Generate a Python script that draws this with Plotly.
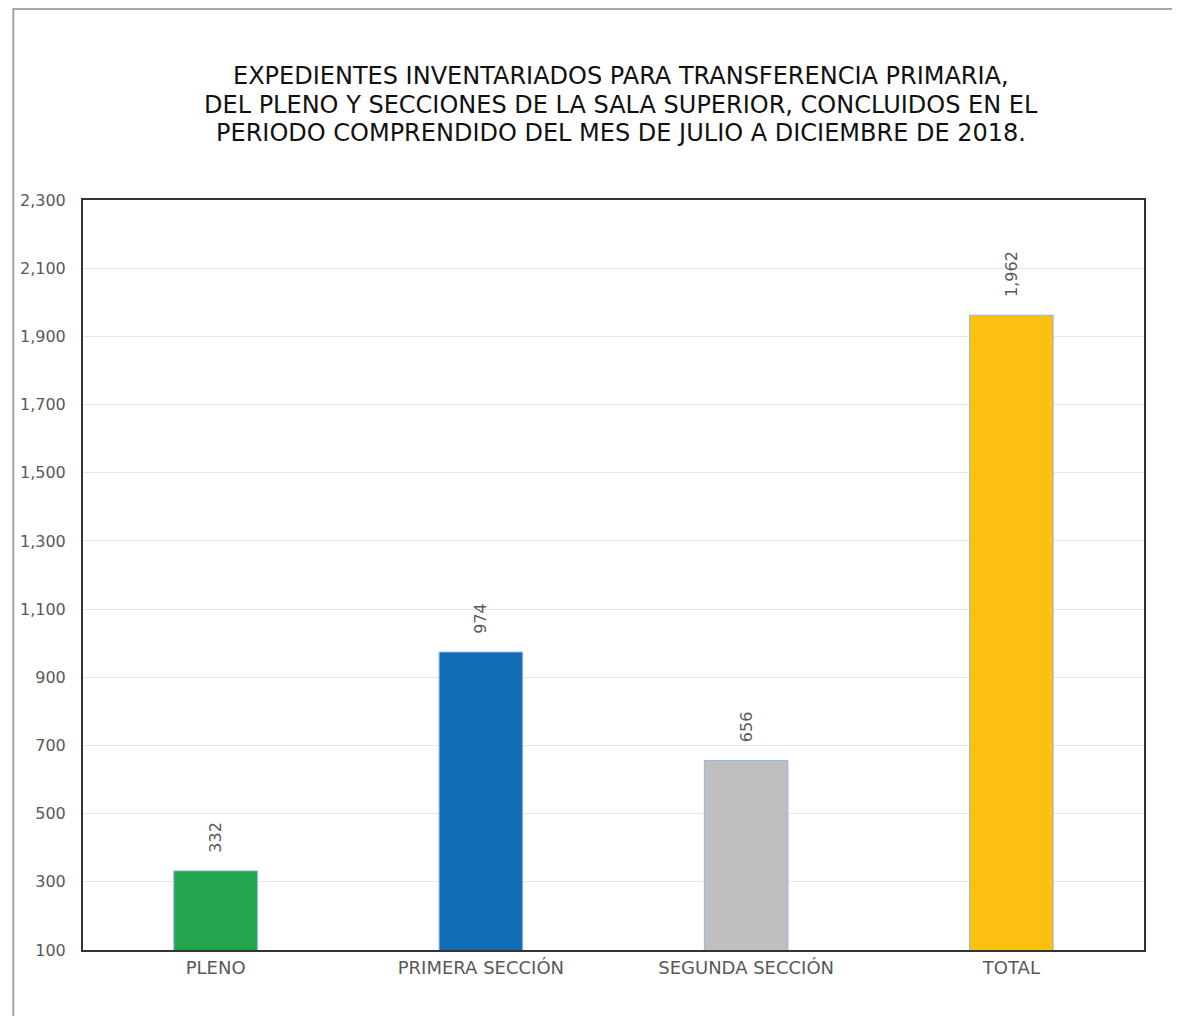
import plotly.graph_objects as go

categorias = ["PLENO", "PRIMERA SECCIÓN", "SEGUNDA SECCIÓN", "TOTAL"]
expedientes = [332, 974, 656, 1962]
colores = ["#24A54E", "#126DB6", "#BFBFBF", "#FDC010"]
ticks_y = list(range(100, 2301, 200))

titulo = [
    "EXPEDIENTES INVENTARIADOS PARA TRANSFERENCIA PRIMARIA,",
    "DEL PLENO Y SECCIONES DE LA SALA SUPERIOR, CONCLUIDOS EN EL",
    "PERIODO COMPRENDIDO DEL MES DE JULIO A DICIEMBRE DE 2018.",
]

fuente = "DejaVu Sans, Arial, sans-serif"

fig = go.Figure(go.Bar(
    x=categorias,
    y=expedientes,
    width=0.315,
    marker=dict(color=colores, line=dict(color="#8FB4E3", width=1)),
    texttemplate="\u00a0\u00a0\u00a0%{y:,}",
    textposition="outside",
    textangle=-90,
    textfont=dict(color="#595959", size=16, family=fuente),
    cliponaxis=False,
))

fig.update_layout(
    width=1172, height=1008,
    margin=dict(l=70, r=36, t=192, b=66),
    paper_bgcolor="white", plot_bgcolor="white",
    font=dict(family=fuente, color="#595959"),
    showlegend=False,
)

# titulo en tres lineas con interlineado ajustado
for i, linea in enumerate(titulo):
    fig.add_annotation(text=linea, xref="paper", yref="paper",
                       x=0.5075, y=1.1653 - i * 0.038,
                       xanchor="center", yanchor="middle", showarrow=False,
                       font=dict(size=24, color="#111111", family=fuente))

fig.update_xaxes(showline=True, linecolor="#333333", linewidth=2, mirror=True,
                 tickfont=dict(size=18, color="#595959"), ticks="")
fig.update_yaxes(range=[100, 2300], tickvals=ticks_y, tickformat=",",
                 showline=True, linecolor="#333333", linewidth=2, mirror=True,
                 gridcolor="#E6E6E6", tickfont=dict(size=16, color="#595959"),
                 ticklabelstandoff=12)

# marco exterior de la imagen
fig.add_shape(type="rect", xref="paper", yref="paper",
              x0=-0.0657, x1=1.2, y0=-0.3, y1=1.2547,
              line=dict(color="#A6A6A6", width=2), fillcolor="rgba(0,0,0,0)")

fig.write_html("out.html")
